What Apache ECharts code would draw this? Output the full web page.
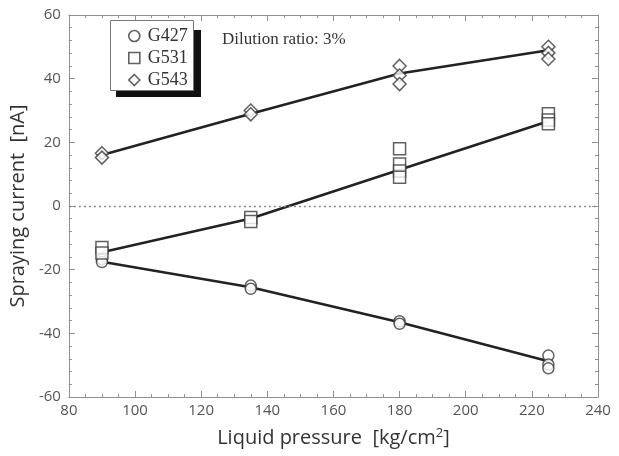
<!DOCTYPE html>
<html><head><meta charset="utf-8">
<script src="https://cdn.jsdelivr.net/npm/echarts@6/dist/echarts.min.js"></script>
<style>html,body{margin:0;padding:0;background:#fff}#c{width:619px;height:456px}</style>
</head><body><div id="c"></div>
<script>
// Measured points [pressure, current]
const g427Points = [[90,-16.7],[90,-17.6],[135,-25],[135,-26],[180,-36.2],[180,-37],[225,-47],[225,-49.8],[225,-51]];
const g531Points = [[90,-13],[90,-14.8],[135,-3.6],[135,-4.9],[180,18],[180,13.2],[180,11],[180,9],[225,29],[225,27],[225,25.8]];
const g543Points = [[90,16.6],[90,15.2],[135,30],[135,28.8],[180,44],[180,41],[180,38.3],[225,50],[225,48.1],[225,46.2]];
// Fitted lines
const g427Line = [[90,-17.5],[135,-25.5],[180,-36.5],[225,-48.8]];
const g531Line = [[90,-14.5],[135,-3.9],[180,11.4],[225,26.6]];
const g543Line = [[90,16],[135,29],[180,41.6],[225,48.9]];
const xTicks = [80,100,120,140,160,180,200,220,240];
const yTicks = [-60,-40,-20,0,20,40,60];
const legendNames = ['G427','G531','G543'];

const chart = echarts.init(document.getElementById('c'));
const axisCol = '#909090';
const markCol = '#3a3a3a';
const lab = {color:'#555', fontFamily:'"Open Sans", sans-serif', fontSize:15};
function xa(pos, show){return {type:'value', position:pos, min:xTicks[0], max:xTicks[xTicks.length-1], interval:20,
  axisLine:{onZero:false, lineStyle:{color:axisCol, width:1}},
  axisTick:{inside:true, length:6, lineStyle:{color:axisCol}},
  minorTick:{show:true, splitNumber:4, length:3, lineStyle:{color:axisCol}},
  splitLine:{show:false}, axisLabel:Object.assign({show:show, margin:6}, lab)};}
function ya(pos, show){return {type:'value', position:pos, min:yTicks[0], max:yTicks[yTicks.length-1], interval:20,
  axisLine:{onZero:false, lineStyle:{color:axisCol, width:1}},
  axisTick:{inside:true, length:6, lineStyle:{color:axisCol}},
  minorTick:{show:true, splitNumber:5, length:3, lineStyle:{color:axisCol}},
  splitLine:{show:false}, axisLabel:Object.assign({show:show, margin:8}, lab)};}
const xBottom = xa('bottom', true);
xBottom.name = '{t|Liquid pressure  [kg/cm}{s|2}{t|]}';
xBottom.nameLocation = 'middle'; xBottom.nameGap = 30;
xBottom.nameTextStyle = {rich:{t:{fontFamily:'"Open Sans", sans-serif', fontSize:20, color:'#333'}, s:{fontFamily:'"Open Sans", sans-serif', fontSize:13, color:'#333', verticalAlign:'top', padding:[0,0,9,0]}}};
const yLeft = ya('left', true);
yLeft.name = 'Spraying current  [nA]';
yLeft.nameLocation = 'middle'; yLeft.nameGap = 36;
yLeft.nameTextStyle = {fontFamily:'"Open Sans", sans-serif', fontSize:20, color:'#333'};

function sc(name, data, symbol, size){return {name, type:'scatter', data, symbol, symbolSize:size, z:5,
  itemStyle:{color:'#fff', borderColor:markCol, borderWidth:1.5}};}
function ln(data){return {type:'line', data, symbol:'none', z:3, lineStyle:{color:'#222', width:2.6}, silent:true};}

chart.setOption({
  animation:false,
  grid:{left:66, right:21, top:15, bottom:59},
  xAxis:[xBottom, xa('top', false)],
  yAxis:[yLeft, ya('right', false)],
  legend:{data:legendNames.map((n,i)=>({name:n, icon:['circle','rect','diamond'][i]})),
    orient:'vertical', left:123, top:22, itemWidth:11, itemHeight:11, itemGap:4, z:20,
    textStyle:{fontFamily:'"Liberation Serif", "Times New Roman", serif', fontSize:18, color:'#333', padding:[0,0,0,3]},
    itemStyle:{color:'#fff', borderColor:markCol, borderWidth:1.6}},
  graphic:[
    {type:'rect', shape:{x:116, y:30, width:85, height:67}, style:{fill:'#111'}, z:10},
    {type:'rect', shape:{x:110.5, y:20.5, width:83, height:70}, style:{fill:'#fff', stroke:'#777', lineWidth:1}, z:11},
    {type:'text', style:{x:222, y:31, text:'Dilution ratio: 3%', font:'17px "Liberation Serif", serif', fill:'#333'}, z:11}
  ],
  series:[
    ln(g427Line), ln(g531Line), ln(g543Line),
    sc('G427', g427Points, 'circle', 11),
    sc('G531', g531Points, 'rect', 12),
    sc('G543', g543Points, 'diamond', 13),
    {type:'line', data:[], markLine:{silent:true, symbol:'none', label:{show:false},
      lineStyle:{type:[2,3], color:'#888', width:1.4}, data:[{yAxis:0}]}}
  ]
});
</script></body></html>
